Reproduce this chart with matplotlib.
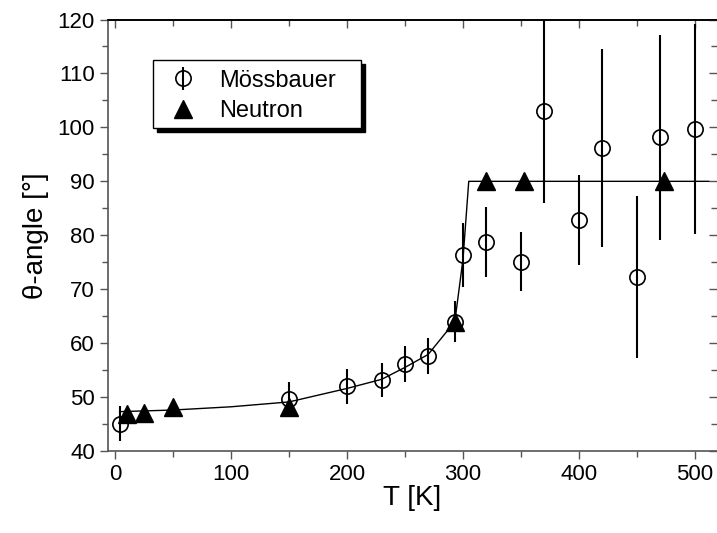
import matplotlib

matplotlib.use("Agg")
import matplotlib.pyplot as plt
from matplotlib.patches import Rectangle
from matplotlib.ticker import MultipleLocator

plt.rcParams["font.family"] = ["Liberation Sans", "DejaVu Sans"]

# Mössbauer data: temperature, angle, error
moss_T = [4, 150, 200, 230, 250, 270, 293, 300, 320, 350, 370, 400, 420, 450, 470, 500]
moss_theta = [45.1, 49.6, 52.0, 53.2, 56.1, 57.6, 64.0, 76.4, 78.7, 75.1, 103.0, 82.8, 96.2, 72.2, 98.2, 99.7]
moss_err = [3.2, 3.2, 3.2, 3.2, 3.3, 3.3, 3.8, 5.9, 6.5, 5.5, 17.0, 8.3, 18.3, 15.0, 19.0, 19.4]

# Neutron data
neut_T = [10, 25, 50, 150, 293, 320, 353, 473]
neut_theta = [46.8, 47.0, 48.2, 48.2, 64.0, 90.0, 90.0, 90.0]

# model curve
fit_T = [4, 50, 100, 150, 200, 230, 250, 270, 293, 300, 305, 512]
fit_theta = [47.3, 47.6, 48.2, 49.1, 51.6, 53.3, 55.5, 57.9, 64.0, 75.5, 90.0, 90.0]

fig = plt.figure(figsize=(7.17, 5.33), dpi=100)
ax = fig.add_axes([0.1506, 0.1538, 0.8494, 0.8096])

ax.plot(fit_T, fit_theta, color="black", lw=1.0, zorder=2)
moss = ax.errorbar(moss_T, moss_theta, yerr=moss_err, fmt="o", ms=11, mfc="none",
                   mec="black", mew=1.2, ecolor="black", elinewidth=1.5, capsize=0,
                   label="Mössbauer", zorder=3)
neut, = ax.plot(neut_T, neut_theta, "^", ms=13, color="black", label="Neutron",
                zorder=4, ls="none")

ax.set_xlim(-6, 519)
ax.set_ylim(40, 120)
ax.xaxis.set_major_locator(MultipleLocator(100))
ax.xaxis.set_minor_locator(MultipleLocator(50))
ax.yaxis.set_major_locator(MultipleLocator(10))
ax.yaxis.set_minor_locator(MultipleLocator(5))
ax.tick_params(which="both", direction="out", labelsize=16, width=1, color="#555555")
ax.tick_params(which="major", length=6)
ax.tick_params(which="minor", length=4)
for side in ["left", "bottom"]:
    ax.spines[side].set_color("#555555")
    ax.spines[side].set_linewidth(1.2)
ax.spines["top"].set_linewidth(1.2)
ax.spines["right"].set_visible(False)

# mirrored ticks pointing inward on top and right
top = ax.secondary_xaxis("top")
top.xaxis.set_major_locator(MultipleLocator(100))
top.xaxis.set_minor_locator(MultipleLocator(50))
top.tick_params(which="both", direction="in", labeltop=False, width=1, color="#555555")
top.tick_params(which="major", length=6)
top.tick_params(which="minor", length=4)
top.spines["top"].set_linewidth(1.2)
right = ax.secondary_yaxis("right")
right.yaxis.set_major_locator(MultipleLocator(10))
right.yaxis.set_minor_locator(MultipleLocator(5))
right.tick_params(which="both", direction="in", labelright=False, width=1, color="#555555")
right.tick_params(which="major", length=6)
right.tick_params(which="minor", length=4)
right.spines["right"].set_visible(False)

ax.set_xlabel("T [K]", fontsize=20, labelpad=0)
ax.set_ylabel("θ-angle [°]", fontsize=20, labelpad=6)

# legend box with solid black drop shadow
box_x0, box_y0, box_w, box_h = 0.074, 0.7486, 0.3415, 0.1574
ax.add_patch(Rectangle((box_x0 + 0.007, box_y0 - 0.009), box_w, box_h, transform=ax.transAxes,
                       facecolor="black", edgecolor="black", zorder=5))
ax.add_patch(Rectangle((box_x0, box_y0), box_w, box_h, transform=ax.transAxes,
                       facecolor="white", edgecolor="black", lw=1.0, zorder=6))
leg = ax.legend(handles=[moss, neut], loc="upper left", bbox_to_anchor=(0.08, 0.9),
                borderaxespad=0, fontsize=17, frameon=False,
                handlelength=1.6, handletextpad=0.75, borderpad=0.3, labelspacing=0.35)
leg.set_zorder(7)

fig.savefig("out.png", dpi=100)
